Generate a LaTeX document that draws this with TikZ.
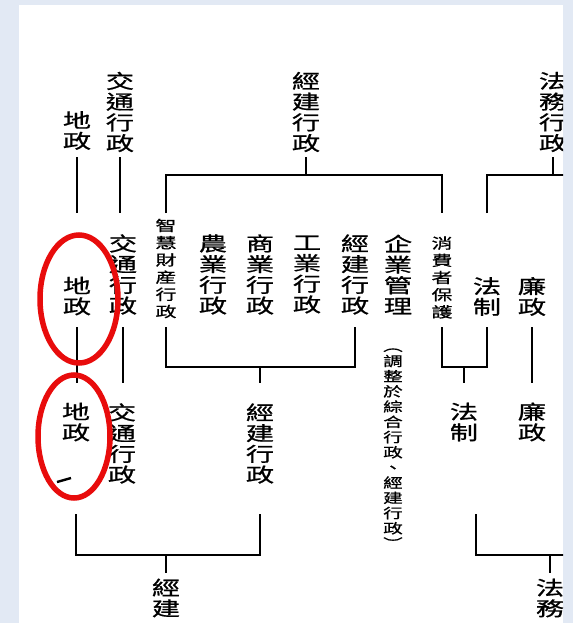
\documentclass[tikz,border=0pt]{standalone}
\usepackage{fontspec}
\newfontfamily\cjk[FakeStretch=1.45, FakeBold=0.8]{Noto Sans CJK TC}
\usetikzlibrary{positioning}
\definecolor{scanback}{RGB}{226,233,244}
\definecolor{penred}{RGB}{232,12,12}
\tikzset{
  post/.style={align=center, inner sep=0pt, font=\cjk\fontsize{19.5}{20.7}\selectfont},
  smallpost/.style={align=center, inner sep=0pt, font=\cjk\fontsize{14.5}{17.2}\selectfont},
  note/.style={align=center, inner sep=0pt, font=\cjk\fontsize{13.5}{15.2}\selectfont},
  link/.style={line width=1.6pt},
  ring/.style={draw=penred, line width=5.5pt}
}

\begin{document}
\begin{tikzpicture}[x=1pt, y=-1pt]
	\useasboundingbox (0,0) rectangle (573,623);
	\fill[scanback] (0,0) rectangle (573,623);
	\fill[white] (19,5) rectangle (563,623);

	\begin{scope}
		\clip (19,5) rectangle (563,623);

		% levels of the rails
		\coordinate (l1) at (0,157);
		\coordinate (b1) at (0,175);
		\coordinate (l2) at (0,213);
		\coordinate (l3) at (0,327);
		\coordinate (b2) at (0,367);
		\coordinate (l4) at (0,383);
		\coordinate (l5) at (0,514);
		\coordinate (b3) at (0,555);
		\coordinate (l6) at (0,573);

		% top row
		\node[post] (dz1) at (77,130.5) {地\\政};
		\node[post] (jt1) at (120,112) {交\\通\\行\\政};
		\node[post] (jj1) at (306,112) {經\\建\\行\\政};
		\node[post] (fw1) at (553,112) {法\\務\\行\\政};

		% second row
		\node[post] (dz2) at (77,296) {地\\政};
		\node[post] (jt2) at (123,274.5) {交\\通\\行\\政};
		\node[smallpost] (zh2) at (166,268.5) {智\\慧\\財\\産\\行\\政};
		\node[post] (ny2) at (213,274.5) {農\\業\\行\\政};
		\node[post] (sy2) at (260,274.5) {商\\業\\行\\政};
		\node[post] (gy2) at (307,274.5) {工\\業\\行\\政};
		\node[post] (jj2) at (355,274.5) {經\\建\\行\\政};
		\node[post] (qy2) at (398,274.5) {企\\業\\管\\理};
		\node[smallpost] (xf2) at (442,277.5) {消\\費\\者\\保\\護};
		\node[post] (fz2) at (487,296.5) {法\\制};
		\node[post] (lz2) at (532,296.5) {廉\\政};

		% third row
		\node[post] (dz3) at (76,422) {地\\政};
		\node[post] (jt3) at (122,443.5) {交\\通\\行\\政};
		\node[post] (jj3) at (260,443.5) {經\\建\\行\\政};
		\node[note] (qynote) at (393,448.5) {︵\\調\\整\\於\\綜\\合\\行\\政\\、\\經\\建\\行\\政\\︶};
		\node[post] (fz3) at (464,422) {法\\制};
		\node[post] (lz3) at (532,422) {廉\\政};

		% bottom row
		\node[post] (jj4) at (166,598) {經\\建};
		\node[post] (fw4) at (550,598) {法\\務};

		% rails, top
		\draw[link] (dz1 |- l1) -- (dz1 |- l2);
		\draw[link] (jt1 |- l1) -- (jt1 |- l2);
		\draw[link] (jj1 |- l1) -- (jj1 |- b1);
		\draw[link] (zh2 |- l2) -- (zh2 |- b1) -- (xf2 |- b1) -- (xf2 |- l2);
		\draw[link] (fw1 |- l1) -- (fw1 |- b1);
		\draw[link] (fz2 |- l2) -- (fz2 |- b1) -- ++(100,0);

		% rails, middle
		\draw[link] (dz2 |- l3) -- (dz2 |- l4);
		\draw[link] (jt2 |- l3) -- (jt2 |- l4);
		\draw[link] (zh2 |- l3) -- (zh2 |- b2) -- (jj2 |- b2) -- (jj2 |- l3);
		\draw[link] (jj3 |- b2) -- (jj3 |- l4);
		\draw[link] (xf2 |- l3) -- (xf2 |- b2) -- (fz2 |- b2) -- (fz2 |- l3);
		\draw[link] (fz3 |- b2) -- (fz3 |- l4);
		\draw[link] (lz2 |- l3) -- (lz2 |- l4);

		% rails, bottom
		\draw[link] (dz3 |- l5) -- (dz3 |- b3) -- (jj3 |- b3) -- (jj3 |- l5);
		\draw[link] (jj4 |- b3) -- (jj4 |- l6);
		\coordinate (fzend) at (476,514);
		\draw[link] (fzend) -- (fzend |- b3) -- ++(100,0);
		\draw[link] (fw4 |- b3) -- (fw4 |- l6);

		% stray pen stroke
		\draw[line width=2.4pt] (57,482) -- (71,478);
	\end{scope}

	% red rings
	\draw[ring] (79,299) ellipse [x radius=39, y radius=64];
	\draw[ring] (74,436.5) ellipse [x radius=36, y radius=61.5];
\end{tikzpicture}
\end{document}
